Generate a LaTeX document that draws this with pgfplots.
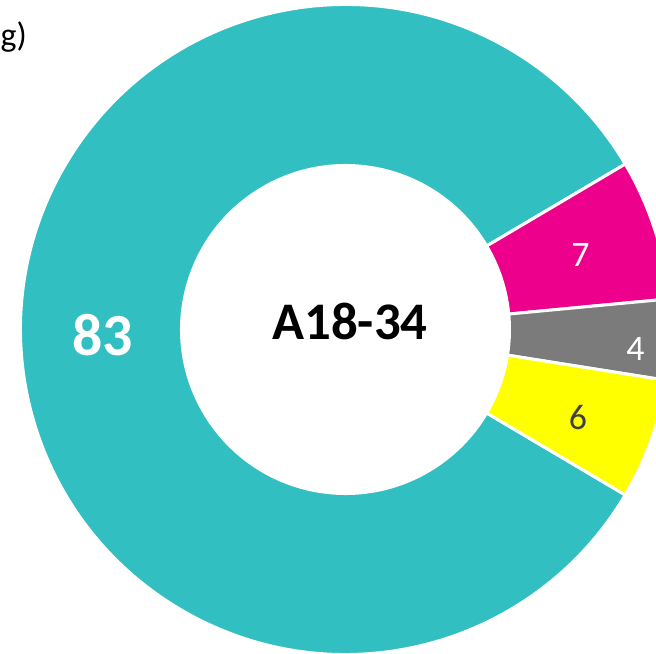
\documentclass[border=0pt]{standalone}
\usepackage{pgfplots}
\pgfplotsset{compat=1.18}
\usepackage{pgfplotstable}
\usepackage{fontspec}
\setmainfont{Carlito}
\definecolor{tealc}{HTML}{31BFC1}
\definecolor{magc}{HTML}{EC008C}
\definecolor{grayc}{HTML}{7B7B7B}
\definecolor{yelc}{HTML}{FFFF00}
\definecolor{darktxt}{HTML}{404040}
\definecolor{whitetxt}{HTML}{FFFFFF}

% value, fill colour, label colour, label radius (bp), label y shift (bp), label font size, bold
\pgfplotstableread{
value fill txt lr ys fs bold
83 tealc whitetxt 243 -6 60 1
7 magc whitetxt 247 -2 36 0
4 grayc whitetxt 290 -10 36 0
6 yelc darktxt 247 -4 36 0
}\donut

\begin{document}
\begin{tikzpicture}
\begin{axis}[
  width=656bp, height=654bp, scale only axis,
  xmin=0, xmax=656, ymin=0, ymax=654,
  hide axis, clip=true,
]
\addplot[draw=none] coordinates {(0,0) (656,654)};
\coordinate (sw) at (rel axis cs:0,0);
\coordinate (ne) at (rel axis cs:1,1);
\pgfplotsextra{
  \coordinate (C) at (axis cs:345.5,324.5);
  \xdef\cur{329.4}
  \pgfplotstablegetrowsof{\donut}
  \pgfmathtruncatemacro\N{\pgfplotsretval-1}
  \foreach \i in {0,...,\N}{
    \pgfplotstablegetelem{\i}{value}\of\donut \let\v\pgfplotsretval
    \pgfplotstablegetelem{\i}{fill}\of\donut \let\fc\pgfplotsretval
    \pgfplotstablegetelem{\i}{txt}\of\donut \let\tc\pgfplotsretval
    \pgfplotstablegetelem{\i}{lr}\of\donut \let\lr\pgfplotsretval
    \pgfplotstablegetelem{\i}{ys}\of\donut \let\ys\pgfplotsretval
    \pgfplotstablegetelem{\i}{fs}\of\donut \let\fs\pgfplotsretval
    \pgfplotstablegetelem{\i}{bold}\of\donut \let\bd\pgfplotsretval
    \pgfmathsetmacro\a{\cur}
    \pgfmathsetmacro\b{\cur-3.6*\v}
    \pgfmathsetmacro\m{(\a+\b)/2}
    \fill[fill=\fc, draw=white, line width=3bp, line join=miter]
      ([shift={(\a:325bp)}]C) arc[start angle=\a, end angle=\b, radius=325bp]
      -- ([shift={(\b:164bp)}]C) arc[start angle=\b, end angle=\a, radius=164bp]
      -- cycle;
    \ifnum\bd=1
      \node[text=\tc, inner sep=0pt, yshift=\ys bp] at ([shift={(\m:\lr bp)}]C)
        {\fontsize{\fs}{\fs}\selectfont\bfseries \v};
    \else
      \node[text=\tc, inner sep=0pt, yshift=\ys bp] at ([shift={(\m:\lr bp)}]C)
        {\fontsize{\fs}{\fs}\selectfont \v};
    \fi
    \xdef\cur{\b}
  }
  \node[inner sep=0pt] at (axis cs:350,332.5) {\fontsize{53}{53}\selectfont\bfseries A18-34};
  \node[inner sep=0pt, anchor=base east] at (axis cs:27,607) {\fontsize{34}{34}\selectfont g)};
}
\end{axis}
\pgfresetboundingbox
\useasboundingbox (sw) rectangle (ne);
\end{tikzpicture}
\end{document}
